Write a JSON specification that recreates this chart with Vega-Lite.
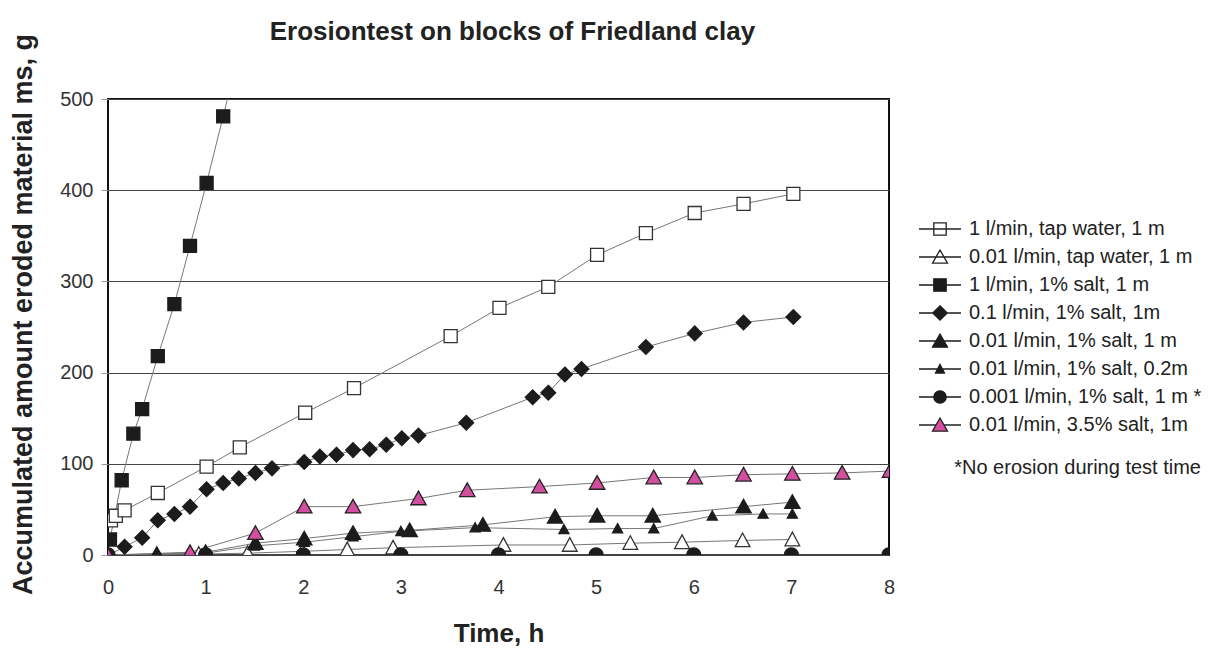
{
  "$schema": "https://vega.github.io/schema/vega-lite/v6.json",
  "width": 781,
  "height": 456,
  "autosize": "none",
  "padding": {"left": 108, "top": 99, "right": 334, "bottom": 93},
  "background": "white",
  "config": {
    "font": "Liberation Sans",
    "view": {"stroke": "#111", "strokeWidth": 2}
  },
  "title": {
    "text": "Erosiontest on blocks of Friedland clay",
    "fontSize": 26,
    "fontWeight": "bold",
    "color": "#222",
    "anchor": "middle",
    "frame": "group",
    "dx": 14,
    "offset": -12
  },
  "data": {
    "values": [
      {"s": "1 l/min, tap water, 1 m", "t": 0.03, "m": 38},
      {"s": "1 l/min, tap water, 1 m", "t": 0.08, "m": 43},
      {"s": "1 l/min, tap water, 1 m", "t": 0.17, "m": 49},
      {"s": "1 l/min, tap water, 1 m", "t": 0.51, "m": 68},
      {"s": "1 l/min, tap water, 1 m", "t": 1.01, "m": 97},
      {"s": "1 l/min, tap water, 1 m", "t": 1.35, "m": 118},
      {"s": "1 l/min, tap water, 1 m", "t": 2.02, "m": 156},
      {"s": "1 l/min, tap water, 1 m", "t": 2.52, "m": 183},
      {"s": "1 l/min, tap water, 1 m", "t": 3.51, "m": 240},
      {"s": "1 l/min, tap water, 1 m", "t": 4.01, "m": 271},
      {"s": "1 l/min, tap water, 1 m", "t": 4.51, "m": 294},
      {"s": "1 l/min, tap water, 1 m", "t": 5.01, "m": 329},
      {"s": "1 l/min, tap water, 1 m", "t": 5.51, "m": 353},
      {"s": "1 l/min, tap water, 1 m", "t": 6.01, "m": 375},
      {"s": "1 l/min, tap water, 1 m", "t": 6.51, "m": 385},
      {"s": "1 l/min, tap water, 1 m", "t": 7.02, "m": 396},

      {"s": "0.01 l/min, tap water, 1 m", "t": 0, "m": 0},
      {"s": "0.01 l/min, tap water, 1 m", "t": 0.93, "m": 1},
      {"s": "0.01 l/min, tap water, 1 m", "t": 1.43, "m": 2},
      {"s": "0.01 l/min, tap water, 1 m", "t": 1.99, "m": 4},
      {"s": "0.01 l/min, tap water, 1 m", "t": 2.45, "m": 6},
      {"s": "0.01 l/min, tap water, 1 m", "t": 2.92, "m": 8},
      {"s": "0.01 l/min, tap water, 1 m", "t": 4.05, "m": 11},
      {"s": "0.01 l/min, tap water, 1 m", "t": 4.73, "m": 11},
      {"s": "0.01 l/min, tap water, 1 m", "t": 5.35, "m": 13},
      {"s": "0.01 l/min, tap water, 1 m", "t": 5.88, "m": 14},
      {"s": "0.01 l/min, tap water, 1 m", "t": 6.5, "m": 16},
      {"s": "0.01 l/min, tap water, 1 m", "t": 7.01, "m": 17},

      {"s": "1 l/min, 1% salt, 1 m", "t": 0.02, "m": 17},
      {"s": "1 l/min, 1% salt, 1 m", "t": 0.14, "m": 82},
      {"s": "1 l/min, 1% salt, 1 m", "t": 0.26, "m": 133},
      {"s": "1 l/min, 1% salt, 1 m", "t": 0.35, "m": 160},
      {"s": "1 l/min, 1% salt, 1 m", "t": 0.51, "m": 218},
      {"s": "1 l/min, 1% salt, 1 m", "t": 0.68, "m": 275},
      {"s": "1 l/min, 1% salt, 1 m", "t": 0.84, "m": 339},
      {"s": "1 l/min, 1% salt, 1 m", "t": 1.01, "m": 408},
      {"s": "1 l/min, 1% salt, 1 m", "t": 1.18, "m": 481},
      {"s": "1 l/min, 1% salt, 1 m", "t": 1.35, "m": 555},

      {"s": "0.1 l/min, 1% salt, 1m", "t": 0, "m": 0},
      {"s": "0.1 l/min, 1% salt, 1m", "t": 0.17, "m": 9},
      {"s": "0.1 l/min, 1% salt, 1m", "t": 0.35, "m": 19},
      {"s": "0.1 l/min, 1% salt, 1m", "t": 0.51, "m": 38},
      {"s": "0.1 l/min, 1% salt, 1m", "t": 0.68, "m": 45},
      {"s": "0.1 l/min, 1% salt, 1m", "t": 0.84, "m": 53},
      {"s": "0.1 l/min, 1% salt, 1m", "t": 1.01, "m": 72},
      {"s": "0.1 l/min, 1% salt, 1m", "t": 1.18, "m": 79},
      {"s": "0.1 l/min, 1% salt, 1m", "t": 1.34, "m": 84},
      {"s": "0.1 l/min, 1% salt, 1m", "t": 1.51, "m": 90},
      {"s": "0.1 l/min, 1% salt, 1m", "t": 1.68, "m": 95},
      {"s": "0.1 l/min, 1% salt, 1m", "t": 2.01, "m": 102},
      {"s": "0.1 l/min, 1% salt, 1m", "t": 2.17, "m": 108},
      {"s": "0.1 l/min, 1% salt, 1m", "t": 2.34, "m": 110},
      {"s": "0.1 l/min, 1% salt, 1m", "t": 2.51, "m": 115},
      {"s": "0.1 l/min, 1% salt, 1m", "t": 2.68, "m": 116},
      {"s": "0.1 l/min, 1% salt, 1m", "t": 2.85, "m": 121},
      {"s": "0.1 l/min, 1% salt, 1m", "t": 3.01, "m": 128},
      {"s": "0.1 l/min, 1% salt, 1m", "t": 3.18, "m": 131},
      {"s": "0.1 l/min, 1% salt, 1m", "t": 3.67, "m": 145},
      {"s": "0.1 l/min, 1% salt, 1m", "t": 4.35, "m": 173},
      {"s": "0.1 l/min, 1% salt, 1m", "t": 4.51, "m": 178},
      {"s": "0.1 l/min, 1% salt, 1m", "t": 4.68, "m": 198},
      {"s": "0.1 l/min, 1% salt, 1m", "t": 4.85, "m": 204},
      {"s": "0.1 l/min, 1% salt, 1m", "t": 5.51, "m": 228},
      {"s": "0.1 l/min, 1% salt, 1m", "t": 6.01, "m": 243},
      {"s": "0.1 l/min, 1% salt, 1m", "t": 6.51, "m": 255},
      {"s": "0.1 l/min, 1% salt, 1m", "t": 7.02, "m": 261},

      {"s": "0.01 l/min, 1% salt, 1 m", "t": 0, "m": 0},
      {"s": "0.01 l/min, 1% salt, 1 m", "t": 0.5, "m": 1},
      {"s": "0.01 l/min, 1% salt, 1 m", "t": 1.0, "m": 3},
      {"s": "0.01 l/min, 1% salt, 1 m", "t": 1.51, "m": 13},
      {"s": "0.01 l/min, 1% salt, 1 m", "t": 2.01, "m": 18},
      {"s": "0.01 l/min, 1% salt, 1 m", "t": 2.51, "m": 24},
      {"s": "0.01 l/min, 1% salt, 1 m", "t": 3.09, "m": 27},
      {"s": "0.01 l/min, 1% salt, 1 m", "t": 3.84, "m": 33},
      {"s": "0.01 l/min, 1% salt, 1 m", "t": 4.58, "m": 42},
      {"s": "0.01 l/min, 1% salt, 1 m", "t": 5.01, "m": 43},
      {"s": "0.01 l/min, 1% salt, 1 m", "t": 5.58, "m": 43},
      {"s": "0.01 l/min, 1% salt, 1 m", "t": 6.51, "m": 53},
      {"s": "0.01 l/min, 1% salt, 1 m", "t": 7.01, "m": 58},

      {"s": "0.01 l/min, 1% salt, 0.2m", "t": 0, "m": 0},
      {"s": "0.01 l/min, 1% salt, 0.2m", "t": 1.0, "m": 2},
      {"s": "0.01 l/min, 1% salt, 0.2m", "t": 1.5, "m": 10},
      {"s": "0.01 l/min, 1% salt, 0.2m", "t": 2.01, "m": 14},
      {"s": "0.01 l/min, 1% salt, 0.2m", "t": 2.51, "m": 20},
      {"s": "0.01 l/min, 1% salt, 0.2m", "t": 3.0, "m": 26},
      {"s": "0.01 l/min, 1% salt, 0.2m", "t": 3.76, "m": 30},
      {"s": "0.01 l/min, 1% salt, 0.2m", "t": 4.67, "m": 28},
      {"s": "0.01 l/min, 1% salt, 0.2m", "t": 5.22, "m": 29},
      {"s": "0.01 l/min, 1% salt, 0.2m", "t": 5.59, "m": 29},
      {"s": "0.01 l/min, 1% salt, 0.2m", "t": 6.19, "m": 43},
      {"s": "0.01 l/min, 1% salt, 0.2m", "t": 6.71, "m": 45},
      {"s": "0.01 l/min, 1% salt, 0.2m", "t": 7.01, "m": 45},

      {"s": "0.001 l/min, 1% salt, 1 m *", "t": 0, "m": 0},
      {"s": "0.001 l/min, 1% salt, 1 m *", "t": 1, "m": 0},
      {"s": "0.001 l/min, 1% salt, 1 m *", "t": 2, "m": 0},
      {"s": "0.001 l/min, 1% salt, 1 m *", "t": 3, "m": 0},
      {"s": "0.001 l/min, 1% salt, 1 m *", "t": 4, "m": 0},
      {"s": "0.001 l/min, 1% salt, 1 m *", "t": 5, "m": 0},
      {"s": "0.001 l/min, 1% salt, 1 m *", "t": 6, "m": 0},
      {"s": "0.001 l/min, 1% salt, 1 m *", "t": 7, "m": 0},
      {"s": "0.001 l/min, 1% salt, 1 m *", "t": 8, "m": 0},

      {"s": "0.01 l/min, 3.5% salt, 1m", "t": 0, "m": 0},
      {"s": "0.01 l/min, 3.5% salt, 1m", "t": 0.84, "m": 3},
      {"s": "0.01 l/min, 3.5% salt, 1m", "t": 1.51, "m": 24},
      {"s": "0.01 l/min, 3.5% salt, 1m", "t": 2.01, "m": 53},
      {"s": "0.01 l/min, 3.5% salt, 1m", "t": 2.51, "m": 53},
      {"s": "0.01 l/min, 3.5% salt, 1m", "t": 3.18, "m": 62},
      {"s": "0.01 l/min, 3.5% salt, 1m", "t": 3.68, "m": 71},
      {"s": "0.01 l/min, 3.5% salt, 1m", "t": 4.42, "m": 75},
      {"s": "0.01 l/min, 3.5% salt, 1m", "t": 5.01, "m": 79},
      {"s": "0.01 l/min, 3.5% salt, 1m", "t": 5.59, "m": 85},
      {"s": "0.01 l/min, 3.5% salt, 1m", "t": 6.01, "m": 85},
      {"s": "0.01 l/min, 3.5% salt, 1m", "t": 6.51, "m": 88},
      {"s": "0.01 l/min, 3.5% salt, 1m", "t": 7.01, "m": 89},
      {"s": "0.01 l/min, 3.5% salt, 1m", "t": 7.52, "m": 90},
      {"s": "0.01 l/min, 3.5% salt, 1m", "t": 8.01, "m": 92}
    ]
  },
  "encoding": {
    "x": {
      "field": "t",
      "type": "quantitative",
      "scale": {"domain": [0, 8], "nice": false},
      "axis": {
        "values": [0, 1, 2, 3, 4, 5, 6, 7, 8],
        "grid": false,
        "ticks": false,
        "domain": false,
        "labelFlush": false,
        "labelOverlap": false,
        "labelFontSize": 20,
        "labelColor": "#333",
        "labelPadding": 22,
        "title": "Time, h",
        "titleFontSize": 26,
        "titleFontWeight": "bold",
        "titleColor": "#222",
        "titlePadding": 23
      }
    },
    "y": {
      "field": "m",
      "type": "quantitative",
      "scale": {"domain": [0, 500], "nice": false},
      "axis": {
        "values": [0, 100, 200, 300, 400, 500],
        "grid": true,
        "gridColor": "#444",
        "gridWidth": 1,
        "domain": false,
        "tickColor": "#999",
        "tickSize": 7,
        "tickWidth": 1,
        "labelFlush": false,
        "labelOverlap": false,
        "labelFontSize": 20,
        "labelColor": "#333",
        "labelPadding": 8,
        "title": "Accumulated amount eroded material ms, g",
        "titleFontSize": 27,
        "titleFontWeight": "bold",
        "titleColor": "#222",
        "titlePadding": 22,
        "titleY": 215
      }
    }
  },
  "layer": [
    {
      "mark": {"type": "line", "color": "#777", "strokeWidth": 1, "clip": true},
      "encoding": {"detail": {"field": "s", "type": "nominal"}}
    },
    {
      "mark": {"type": "point", "filled": true, "size": 196, "strokeWidth": 1.3, "opacity": 1, "clip": true},
      "encoding": {
        "shape": {
          "field": "s", "type": "nominal", "legend": null,
          "scale": {
            "domain": ["1 l/min, tap water, 1 m", "0.01 l/min, tap water, 1 m", "1 l/min, 1% salt, 1 m", "0.1 l/min, 1% salt, 1m", "0.01 l/min, 1% salt, 1 m", "0.01 l/min, 1% salt, 0.2m", "0.001 l/min, 1% salt, 1 m *", "0.01 l/min, 3.5% salt, 1m"],
            "range": [
              "M-0.93,-0.93H0.93V0.93H-0.93Z",
              "M0,-1.05L1.05,0.9H-1.05Z",
              "M-0.93,-0.93H0.93V0.93H-0.93Z",
              "M0,-1.05L1.05,0L0,1.05L-1.05,0Z",
              "M0,-1.05L1.1,0.9H-1.1Z",
              "M0,-0.7L0.72,0.6H-0.72Z",
              "M-1,0A1,1,0,1,1,1,0A1,1,0,1,1,-1,0Z",
              "M0,-1.05L1.1,0.9H-1.1Z"
            ]
          }
        },
        "fill": {
          "field": "s", "type": "nominal", "legend": null,
          "scale": {
            "domain": ["1 l/min, tap water, 1 m", "0.01 l/min, tap water, 1 m", "1 l/min, 1% salt, 1 m", "0.1 l/min, 1% salt, 1m", "0.01 l/min, 1% salt, 1 m", "0.01 l/min, 1% salt, 0.2m", "0.001 l/min, 1% salt, 1 m *", "0.01 l/min, 3.5% salt, 1m"],
            "range": ["#ffffff", "#ffffff", "#1c1c1c", "#1c1c1c", "#1c1c1c", "#1c1c1c", "#1c1c1c", "#d24e9e"]
          }
        },
        "stroke": {
          "field": "s", "type": "nominal", "legend": null,
          "scale": {
            "domain": ["1 l/min, tap water, 1 m", "0.01 l/min, tap water, 1 m", "1 l/min, 1% salt, 1 m", "0.1 l/min, 1% salt, 1m", "0.01 l/min, 1% salt, 1 m", "0.01 l/min, 1% salt, 0.2m", "0.001 l/min, 1% salt, 1 m *", "0.01 l/min, 3.5% salt, 1m"],
            "range": ["#333333", "#333333", "#1c1c1c", "#1c1c1c", "#1c1c1c", "#1c1c1c", "#1c1c1c", "#222222"]
          }
        }
      }
    },
    {
      "transform": [{"filter": "datum.t < -1"}],
      "mark": {"type": "point", "filled": true, "strokeWidth": 1.3, "opacity": 1},
      "encoding": {
        "shape": {
          "field": "s", "type": "nominal", "title": "*No erosion during test time",
          "scale": {
            "domain": ["1 l/min, tap water, 1 m", "0.01 l/min, tap water, 1 m", "1 l/min, 1% salt, 1 m", "0.1 l/min, 1% salt, 1m", "0.01 l/min, 1% salt, 1 m", "0.01 l/min, 1% salt, 0.2m", "0.001 l/min, 1% salt, 1 m *", "0.01 l/min, 3.5% salt, 1m"],
            "range": [
              "M-2.1,0H2.1M-0.62,-0.62H0.62V0.62H-0.62Z",
              "M-2.1,0H2.1M0,-0.7L0.75,0.62H-0.75Z",
              "M-2.1,0H-0.62M0.62,0H2.1M-0.62,-0.62H0.62V0.62H-0.62Z",
              "M-2.1,0H-0.72M0.72,0H2.1M0,-0.72L0.72,0L0,0.72L-0.72,0Z",
              "M-2.1,0H-0.4M0.4,0H2.1M0,-0.7L0.75,0.62H-0.75Z",
              "M-2.1,0H-0.25M0.25,0H2.1M0,-0.45L0.45,0.4H-0.45Z",
              "M-2.1,0H-0.62M0.62,0H2.1M-0.62,0A0.62,0.62,0,1,1,0.62,0A0.62,0.62,0,1,1,-0.62,0Z",
              "M-2.1,0H-0.4M0.4,0H2.1M0,-0.7L0.75,0.62H-0.75Z"
            ]
          },
          "legend": {"orient": "none", "legendX": 821, "legendY": 119, "titleOrient": "bottom", "titleFontSize": 20, "titleFontWeight": "normal", "titleColor": "#222", "titleAnchor": "end", "titlePadding": 23, "titleLimit": 500, "labelFontSize": 20, "labelColor": "#222", "labelOffset": 18, "symbolSize": 400, "symbolStrokeWidth": 1.3, "rowPadding": 7, "padding": 0, "labelLimit": 400}
        },
        "fill": {
          "field": "s", "type": "nominal", "title": "*No erosion during test time",
          "scale": {
            "domain": ["1 l/min, tap water, 1 m", "0.01 l/min, tap water, 1 m", "1 l/min, 1% salt, 1 m", "0.1 l/min, 1% salt, 1m", "0.01 l/min, 1% salt, 1 m", "0.01 l/min, 1% salt, 0.2m", "0.001 l/min, 1% salt, 1 m *", "0.01 l/min, 3.5% salt, 1m"],
            "range": ["#ffffff", "#ffffff", "#1c1c1c", "#1c1c1c", "#1c1c1c", "#1c1c1c", "#1c1c1c", "#d24e9e"]
          },
          "legend": {"orient": "none", "legendX": 821, "legendY": 119, "titleOrient": "bottom", "titleFontSize": 20, "titleFontWeight": "normal", "titleColor": "#222", "titleAnchor": "end", "titlePadding": 23, "titleLimit": 500, "labelFontSize": 20, "labelColor": "#222", "labelOffset": 18, "symbolSize": 400, "symbolStrokeWidth": 1.3, "rowPadding": 7, "padding": 0, "labelLimit": 400}
        },
        "stroke": {
          "field": "s", "type": "nominal", "title": "*No erosion during test time",
          "scale": {
            "domain": ["1 l/min, tap water, 1 m", "0.01 l/min, tap water, 1 m", "1 l/min, 1% salt, 1 m", "0.1 l/min, 1% salt, 1m", "0.01 l/min, 1% salt, 1 m", "0.01 l/min, 1% salt, 0.2m", "0.001 l/min, 1% salt, 1 m *", "0.01 l/min, 3.5% salt, 1m"],
            "range": ["#222222", "#222222", "#1c1c1c", "#1c1c1c", "#1c1c1c", "#1c1c1c", "#1c1c1c", "#222222"]
          },
          "legend": {"orient": "none", "legendX": 821, "legendY": 119, "titleOrient": "bottom", "titleFontSize": 20, "titleFontWeight": "normal", "titleColor": "#222", "titleAnchor": "end", "titlePadding": 23, "titleLimit": 500, "labelFontSize": 20, "labelColor": "#222", "labelOffset": 18, "symbolSize": 400, "symbolStrokeWidth": 1.3, "rowPadding": 7, "padding": 0, "labelLimit": 400}
        }
      }
    }
  ],
  "resolve": {"scale": {"shape": "independent", "fill": "independent", "stroke": "independent"}}
}
